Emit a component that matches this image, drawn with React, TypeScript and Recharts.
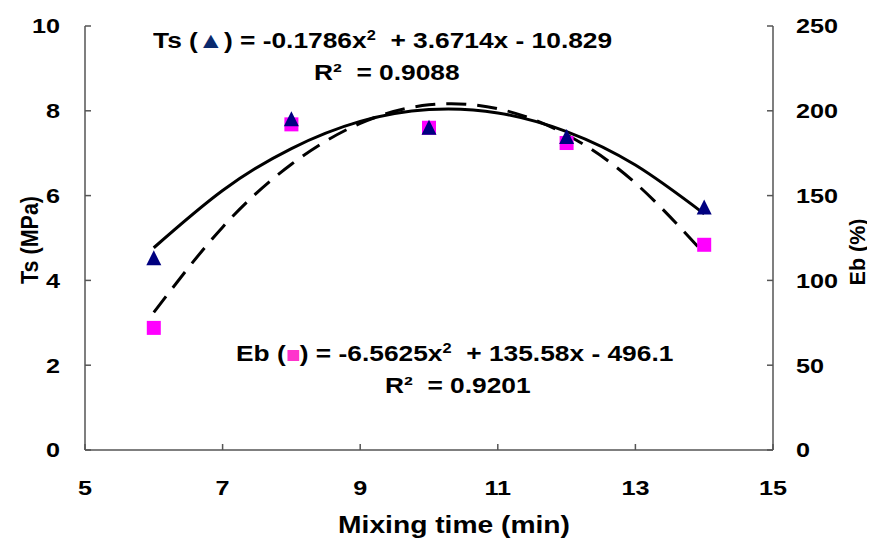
import { ComposedChart, Line, Scatter, XAxis, YAxis } from "recharts"

// measured points
const mixTime = [6, 8, 10, 12, 14]
const tsValues = [4.52, 7.8, 7.6, 7.38, 5.72]
const ebValues = [72, 192, 190, 181, 121]

// trend curves read at each minute
const trendX = [6, 7, 8, 9, 10, 11, 12, 13, 14]
const tsTrend = [4.77, 6.12, 7.11, 7.75, 8.03, 7.95, 7.51, 6.72, 5.57]
const ebTrend = [81.1, 131.4, 168.5, 192.6, 203.5, 201.2, 185.9, 157.4, 115.8]

const xTicks = [5, 7, 9, 11, 13, 15]
const tsTicks = [0, 2, 4, 6, 8, 10]
const ebTicks = [0, 50, 100, 150, 200, 250]

const tsPoints = mixTime.map((x, i) => ({ x, y: tsValues[i] }))
const ebPoints = mixTime.map((x, i) => ({ x, y: ebValues[i] }))
const tsLine = trendX.map((x, i) => ({ x, y: tsTrend[i] }))
const ebLine = trendX.map((x, i) => ({ x, y: ebTrend[i] }))

const font = "'Liberation Sans', Arial, sans-serif"
const stretch = 1.2

// the reference text is a bit wider than Arial, so stretch it sideways
const makeTick = (anchor: "start" | "middle" | "end", dy: string) => (props: any) => {
  const { x, y, payload } = props
  return (
    <text
      transform={`translate(${x},${y}) scale(${stretch},1)`}
      textAnchor={anchor}
      dy={dy}
      fontSize={21}
      fontWeight={700}
      fontFamily={font}
      fill="#000"
    >
      {payload.value}
    </text>
  )
}

const Triangle = (props: any) => {
  const { cx, cy } = props
  return <polygon points={`${cx},${cy - 8} ${cx - 7.5},${cy + 7} ${cx + 7.5},${cy + 7}`} fill="#000080" />
}

const Square = (props: any) => {
  const { cx, cy } = props
  return <rect x={cx - 7} y={cy - 7} width={14} height={14} fill="#ff00ff" />
}

const eqStyle: React.CSSProperties = {
  position: "absolute",
  fontFamily: font,
  fontWeight: 700,
  fontSize: 22.5,
  whiteSpace: "pre",
  width: "max-content",
  lineHeight: "22px",
  color: "#000",
  transform: "scaleX(1.17)",
  transformOrigin: "0 0",
}

const titleStyle: React.CSSProperties = {
  position: "absolute",
  fontFamily: font,
  fontWeight: 700,
  fontSize: 21.5,
  whiteSpace: "nowrap",
  width: "max-content",
  lineHeight: "24px",
}

export default function App() {
  return (
    <div style={{ position: "relative", width: 867, height: 538 }}>
      <ComposedChart width={867} height={538} margin={{ top: 18, right: 32, left: 17, bottom: 46 }}>
        <XAxis
          dataKey="x"
          type="number"
          domain={[5, 15]}
          ticks={xTicks}
          allowDuplicatedCategory={false}
          height={50}
          tickSize={-6}
          tickMargin={36}
          tick={makeTick("middle", "0.71em")}
          stroke="#555"
          strokeWidth={1.5}
        />
        <YAxis
          yAxisId="ts"
          type="number"
          domain={[0, 10]}
          ticks={tsTicks}
          width={60}
          tickSize={-6}
          tickMargin={31}
          tick={makeTick("end", "0.355em")}
          stroke="#555"
          strokeWidth={1.5}
        />
        <YAxis
          yAxisId="eb"
          orientation="right"
          type="number"
          domain={[0, 250]}
          ticks={ebTicks}
          width={70}
          tickSize={-6}
          tickMargin={29}
          tick={makeTick("start", "0.355em")}
          stroke="#555"
          strokeWidth={1.5}
        />
        <Line
          yAxisId="ts"
          data={tsLine}
          dataKey="y"
          type="natural"
          stroke="#000"
          strokeWidth={3}
          dot={false}
          isAnimationActive={false}
        />
        <Line
          yAxisId="eb"
          data={ebLine}
          dataKey="y"
          type="natural"
          stroke="#000"
          strokeWidth={3}
          strokeDasharray="20 11"
          dot={false}
          isAnimationActive={false}
        />
        <Scatter yAxisId="eb" data={ebPoints} dataKey="y" shape={Square} isAnimationActive={false} />
        <Scatter yAxisId="ts" data={tsPoints} dataKey="y" shape={Triangle} isAnimationActive={false} />
      </ComposedChart>

      <div style={{ ...eqStyle, left: 145, top: 22 }}>
        Ts (<span style={{ color: "#0a2a6e" }}>▲</span>) = -0.1786x<sup style={{ fontSize: 14, lineHeight: 0 }}>2</sup>  + 3.6714x - 10.829
      </div>
      <div style={{ ...eqStyle, left: 306, top: 54 }}>R²  = 0.9088</div>
      <div style={{ ...eqStyle, left: 228, top: 335 }}>
        Eb (<span style={{ display: "inline-block", width: 10, height: 11, margin: "0 1px", background: "#ff33cc", verticalAlign: "0px" }} />) = -6.5625x<sup style={{ fontSize: 14, lineHeight: 0 }}>2</sup>  + 135.58x - 496.1
      </div>
      <div style={{ ...eqStyle, left: 377, top: 367 }}>R²  = 0.9201</div>

      <div style={{ ...titleStyle, left: 22, top: 232, transform: "translate(-50%, -50%) rotate(-90deg) scaleY(1.15)" }}>
        Ts (MPa)
      </div>
      <div style={{ ...titleStyle, left: 850, top: 244, transform: "translate(-50%, -50%) rotate(-90deg)" }}>
        Eb (%)
      </div>
      <div style={{ ...titleStyle, fontSize: 23.5, left: 446, top: 517, transform: "translate(-50%, -50%) scaleX(1.2)" }}>
        Mixing time (min)
      </div>
    </div>
  )
}
